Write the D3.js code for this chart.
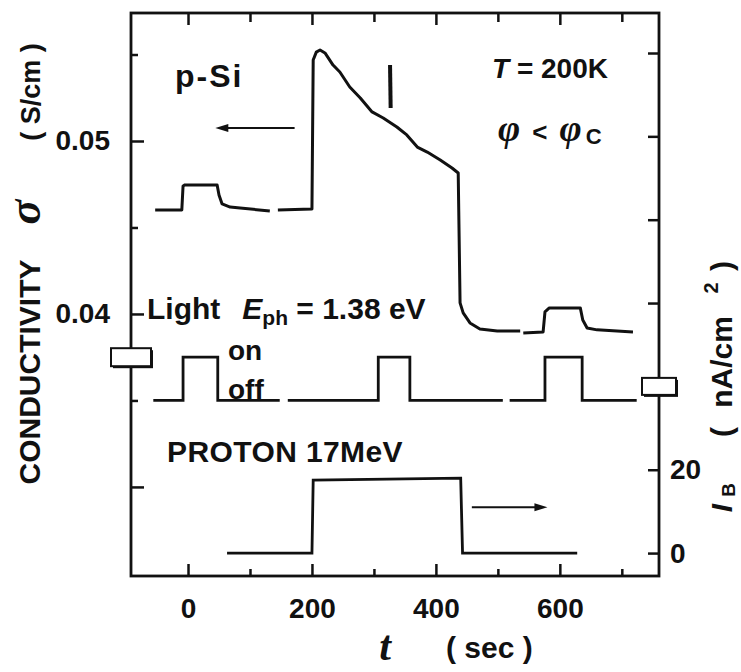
<!DOCTYPE html>
<html>
<head>
<meta charset="utf-8">
<script src="https://cdn.jsdelivr.net/npm/d3@7"></script>
<style>
  body { margin: 0; background: #fff; }
  svg { display: block; }
  .lbl { font-family: "Liberation Sans", Arial, sans-serif; font-weight: bold; fill: #111; }
  .ser { font-family: "Liberation Serif", "Times New Roman", serif; font-weight: bold; font-style: italic; fill: #111; }
  .axis path { display: none; }
  .axis line { stroke: #111; stroke-width: 2.5; }
  .axis text { font-family: "Liberation Sans", Arial, sans-serif; font-weight: bold; font-size: 28px; fill: #111; }
</style>
</head>
<body>
<svg id="chart"></svg>
<script>
// conductivity sigma (S/cm) vs time (sec), NaN = gap in trace
const condTime = [-53, -10, -8, -5, 47, 50, 55, 68, 84, 132, NaN, 145, 200, 202, 207, 213, 221, 234, 245, 261,
  278, 297, 315, 337, 353, 370, 386, 407, 426, 436, 439, 444, 455, 471, 499, 536, NaN, 541, 573, 576,
  583, 633, 637, 644, 660, 718];
const condSigma = [0.04601, 0.04601, 0.04740, 0.04746, 0.04746, 0.04688, 0.04636, 0.04618, 0.04613, 0.04595, NaN,
  0.04601, 0.04607, 0.05468, 0.05514, 0.05526, 0.05509, 0.05439, 0.05399, 0.05312, 0.05249, 0.05168, 0.05133,
  0.05081, 0.05035, 0.04965, 0.04936, 0.04890, 0.04844, 0.04815, 0.04064, 0.04006, 0.03948, 0.03913, 0.03902,
  0.03902, NaN, 0.03890, 0.03896, 0.04012, 0.04035, 0.04035, 0.03965, 0.03919, 0.03908, 0.03896];

// light on (1) / off (0)
const lightTime = [-56, -8, -8, 48, 48, 148, NaN, 161, 307, 307, 358, 358, 508, NaN, 519, 576, 576, 636, 636, 724];
const lightState = [0, 0, 1, 1, 0, 0, NaN, 0, 0, 1, 1, 0, 0, NaN, 0, 0, 1, 1, 0, 0];

// proton beam current I_B (nA/cm2)
const protonTime = [63, 200, 202, 440, 443, 628];
const protonFlux = [0, 0, 17.5, 18, 0, 0];

const xMajor = [0, 200, 400, 600];
const xMinor = [100, 300, 500, 700];
const sigMajor = [0.03, 0.04, 0.05];
const sigMinor = [0.035, 0.045, 0.055];
const sigLabels = [0.04, 0.05];
const ibTicks = [0, 20, 40, 60, 80, 100, 120];
const ibLabels = [0, 20];

const w = 741, h = 672;
const mLeft = 131, mRight = 659, mTop = 13, mBottom = 576;

const svg = d3.select('#chart').attr('width', w).attr('height', h);

const x = d3.scaleLinear().domain([-92, 760]).range([mLeft, mRight]);
const ySig = d3.scaleLinear().domain([0.02485, 0.0574]).range([mBottom, mTop]);
const yIB = d3.scaleLinear().domain([-5.5, 129.6]).range([mBottom, mTop]);
const yLight = d3.scaleLinear().domain([0, 1]).range([ySig(0.035), ySig(0.0375)]);

// AXES (ticks point inward)
svg.append('g').attr('class', 'axis').attr('transform', `translate(0,${mBottom})`)
  .call(d3.axisBottom(x).tickValues(xMajor).tickSizeInner(-12).tickPadding(22).tickFormat(d3.format('d')));
svg.append('g').attr('class', 'axis').attr('transform', `translate(0,${mBottom})`)
  .call(d3.axisBottom(x).tickValues(xMinor).tickSizeInner(-7).tickFormat(''));
svg.append('g').attr('class', 'axis').attr('transform', `translate(0,${mTop})`)
  .call(d3.axisTop(x).tickValues(xMajor).tickSizeInner(-12).tickFormat(''));
svg.append('g').attr('class', 'axis').attr('transform', `translate(0,${mTop})`)
  .call(d3.axisTop(x).tickValues(xMinor).tickSizeInner(-9).tickFormat(''));

svg.append('g').attr('class', 'axis').attr('transform', `translate(${mLeft},0)`)
  .call(d3.axisLeft(ySig).tickValues(sigMajor).tickSizeInner(-13)
    .tickFormat(d => sigLabels.includes(d) ? d3.format('.2f')(d) : ''))
  .selectAll('text').attr('text-anchor', 'end').attr('x', -21);
svg.append('g').attr('class', 'axis').attr('transform', `translate(${mLeft},0)`)
  .call(d3.axisLeft(ySig).tickValues(sigMinor).tickSizeInner(-7).tickFormat(''));

svg.append('g').attr('class', 'axis').attr('transform', `translate(${mRight},0)`)
  .call(d3.axisRight(yIB).tickValues(ibTicks).tickSizeInner(-11)
    .tickFormat(d => ibLabels.includes(d) ? d : ''))
  .selectAll('text').attr('x', 11);

// frame
svg.append('rect')
  .attr('x', mLeft).attr('y', mTop)
  .attr('width', mRight - mLeft).attr('height', mBottom - mTop)
  .attr('fill', 'none').attr('stroke', '#111').attr('stroke-width', 2.8);

// axis breaks
function brk(cx, cy, bw, bh) {
  svg.append('rect').attr('x', cx - bw / 2 + 2).attr('y', cy - bh / 2 + 2)
    .attr('width', bw).attr('height', bh).attr('fill', '#111');
  svg.append('rect').attr('x', cx - bw / 2).attr('y', cy - bh / 2)
    .attr('width', bw).attr('height', bh)
    .attr('fill', '#fff').attr('stroke', '#111').attr('stroke-width', 2);
}
brk(mLeft, ySig(0.0375), 40, 18);
brk(mRight, yIB(40), 34, 17);

// CURVES
const lineSig = d3.line().defined((d, i) => !isNaN(condSigma[i]))
  .x((d, i) => x(condTime[i])).y((d, i) => ySig(condSigma[i]));
svg.append('path').attr('d', lineSig(condTime))
  .attr('fill', 'none').attr('stroke', '#111').attr('stroke-width', 3).attr('stroke-linejoin', 'round');

const lineLight = d3.line().defined((d, i) => !isNaN(lightState[i]))
  .x((d, i) => x(lightTime[i])).y((d, i) => yLight(lightState[i]));
svg.append('path').attr('d', lineLight(lightTime))
  .attr('fill', 'none').attr('stroke', '#111').attr('stroke-width', 2.8);

const lineProton = d3.line()
  .x((d, i) => x(protonTime[i])).y((d, i) => yIB(protonFlux[i]));
svg.append('path').attr('d', lineProton(protonTime))
  .attr('fill', 'none').attr('stroke', '#111').attr('stroke-width', 2.8);

// marker during light pulse
svg.append('line')
  .attr('x1', x(326)).attr('x2', x(327))
  .attr('y1', ySig(0.05439)).attr('y2', ySig(0.05191))
  .attr('stroke', '#111').attr('stroke-width', 4);

// arrows
function arrow(x1, x2, y) {
  const dir = Math.sign(x2 - x1);
  svg.append('line').attr('x1', x1).attr('x2', x2 - dir * 8).attr('y1', y).attr('y2', y)
    .attr('stroke', '#111').attr('stroke-width', 2);
  svg.append('path')
    .attr('d', `M${x2},${y} L${x2 - dir * 13},${y - 4} L${x2 - dir * 13},${y + 4} Z`)
    .attr('fill', '#111');
}
arrow(x(172), x(44), ySig(0.05075));
arrow(x(458), x(580), yIB(11));

// TEXT
svg.append('text').attr('class', 'lbl').attr('x', 175).attr('y', 87)
  .attr('font-size', 32).attr('letter-spacing', 2).text('p-Si');

const tt = svg.append('text').attr('class', 'lbl').attr('x', 492).attr('y', 78).attr('font-size', 28);
tt.append('tspan').attr('font-style', 'italic').text('T');
tt.append('tspan').text(' = 200K');

const ph = svg.append('text').attr('x', 498).attr('y', 141);
ph.append('tspan').attr('class', 'ser').attr('font-size', 38).text('\u03c6');
ph.append('tspan').attr('class', 'lbl').attr('font-size', 26).attr('dx', 12).text('<');
ph.append('tspan').attr('class', 'ser').attr('font-size', 38).attr('dx', 12).text('\u03c6');
ph.append('tspan').attr('class', 'lbl').attr('font-size', 22).attr('dx', 4).attr('dy', 3).text('C');

const lt = svg.append('text').attr('class', 'lbl').attr('x', 147).attr('y', 319).attr('font-size', 30);
lt.append('tspan').text('Light');
lt.append('tspan').attr('dx', 22).attr('font-style', 'italic').text('E');
lt.append('tspan').attr('font-size', 21).attr('dy', 6).text('ph');
lt.append('tspan').attr('dy', -6).text(' = 1.38 eV');

svg.append('text').attr('class', 'lbl').attr('x', 228).attr('y', 360).attr('font-size', 28).text('on');
svg.append('text').attr('class', 'lbl').attr('x', 228).attr('y', 399).attr('font-size', 28).text('off');
svg.append('text').attr('class', 'lbl').attr('x', 167).attr('y', 462).attr('font-size', 30)
  .attr('letter-spacing', 0.4).text('PROTON 17MeV');

// x title
svg.append('text').attr('class', 'ser').attr('x', 385).attr('y', 660)
  .attr('text-anchor', 'middle').attr('font-size', 42).text('t');
svg.append('text').attr('class', 'lbl').attr('x', 446).attr('y', 658)
  .attr('font-size', 30).text('( sec )');

// rotated titles
function vtext(cx, cy, cls, size, str) {
  return svg.append('text').attr('class', cls)
    .attr('transform', `translate(${cx},${cy}) rotate(-90)`)
    .attr('text-anchor', 'middle').attr('font-size', size).text(str);
}
vtext(40, 372, 'lbl', 30, 'CONDUCTIVITY');
vtext(40, 212, 'ser', 46, '\u03c3').attr('font-style', 'normal');
vtext(40, 92, 'lbl', 27, '( S/cm )');

vtext(732, 508, 'lbl', 30, 'I').attr('font-style', 'italic');
vtext(735, 490, 'lbl', 19, 'B');
vtext(732, 432, 'lbl', 30, '(');
vtext(732, 362, 'lbl', 30, 'nA/cm');
vtext(718, 288, 'lbl', 20, '2');
vtext(732, 266, 'lbl', 30, ')');
</script>
</body>
</html>
